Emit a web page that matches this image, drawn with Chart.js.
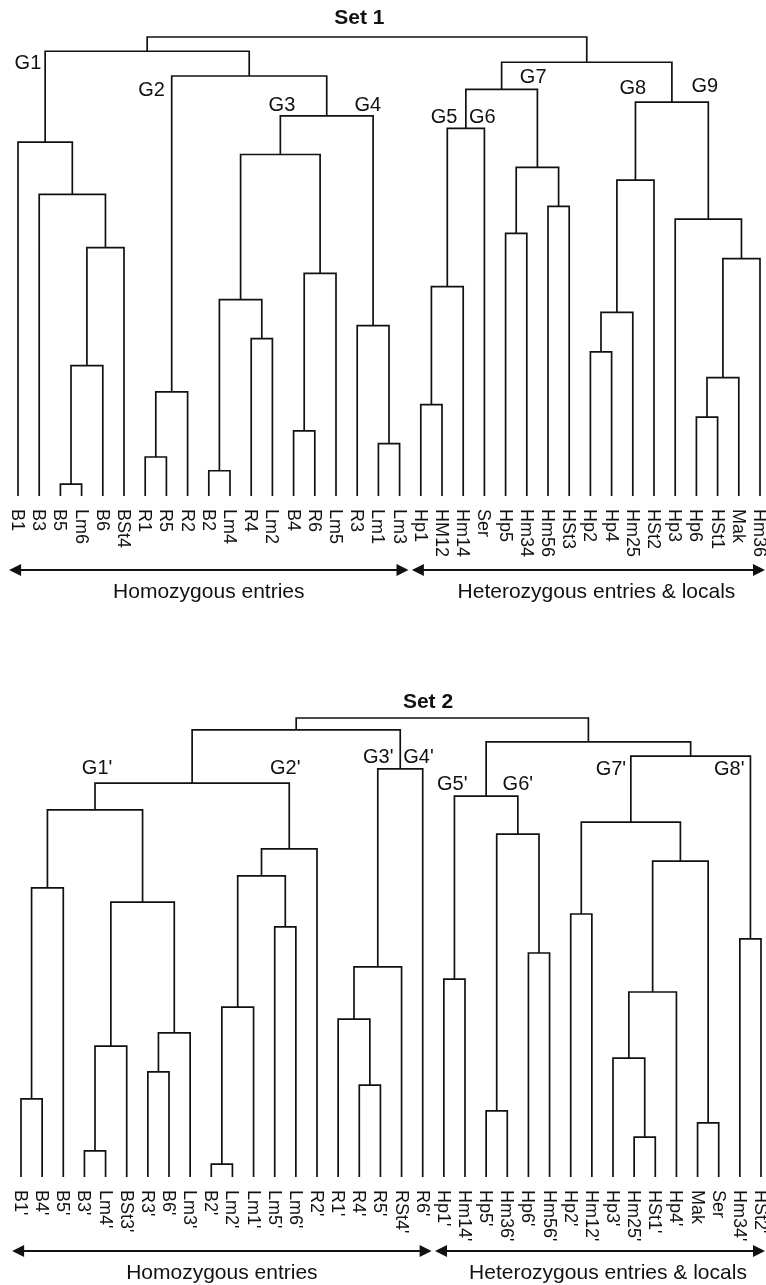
<!DOCTYPE html>
<html>
<head>
<meta charset="utf-8">
<title>Set 1 / Set 2 dendrograms</title>
<script src="https://cdn.jsdelivr.net/npm/chart.js@4.4.1/dist/chart.umd.min.js"></script>
<style>
  body { margin: 0; background: #fff; }
  #wrap { position: relative; width: 766px; height: 1285px; }
  #wrap canvas { position: absolute; left: 0; }
</style>
</head>
<body>
<div id="wrap">
  <canvas id="set1Chart" width="766" height="620" style="top:0px"></canvas>
  <canvas id="set2Chart" width="766" height="645" style="top:640px"></canvas>
</div>
<script>
// ---- Set 1 ----
const set1Leaves = ["B1", "B3", "B5", "Lm6", "B6", "BSt4", "R1", "R5", "R2", "B2", "Lm4", "R4",
  "Lm2", "B4", "R6", "Lm5", "R3", "Lm1", "Lm3", "Hp1", "HM12", "Hm14", "Ser", "Hp5", "Hm34",
  "Hm56", "HSt3", "Hp2", "Hp4", "Hm25", "HSt2", "Hp3", "Hp6", "HSt1", "Mak", "Hm36"];

// a number refers to an earlier merge (its index in this list)
const set1Merges = [
  ["B5", "Lm6"], [0, "B6"], [1, "BSt4"], ["B3", 2], ["B1", 3],
  ["R1", "R5"], [5, "R2"], ["B2", "Lm4"], ["R4", "Lm2"], [7, 8],
  ["B4", "R6"], [10, "Lm5"], [9, 11], ["Lm1", "Lm3"], ["R3", 13],
  [12, 14], [6, 15], [4, 16],
  ["Hp1", "HM12"], [18, "Hm14"], [19, "Ser"], ["Hp5", "Hm34"], ["Hm56", "HSt3"], [21, 22],
  [20, 23], ["Hp2", "Hp4"], [25, "Hm25"], [26, "HSt2"], ["Hp6", "HSt1"], [28, "Mak"],
  [29, "Hm36"], ["Hp3", 30], [27, 31], [24, 32], [17, 33]
];
const set1Heights = [2.6, 28.4, 54.1, 65.7, 77.1,
  8.5, 22.7, 5.5, 34.3, 42.8,
  14.2, 48.5, 74.4, 11.4, 37.1,
  82.8, 91.5, 96.9,
  19.9, 45.6, 80.1, 57.2, 63.1, 71.6,
  88.6, 31.4, 40.0, 68.8, 17.2, 25.8,
  51.7, 60.3, 85.8, 94.5, 100];

const set1Groups = ["G1", "G2", "G3", "G4", "G5", "G6", "G7", "G8", "G9"];
const set1Spans = ["Homozygous entries", "Heterozygous entries & locals"];
const set1SpanEnds = [["B1", "Lm3"], ["Hp1", "Hm36"]];

// ---- Set 2 ----
const set2Leaves = ["B1'", "B4'", "B5'", "B3'", "Lm4'", "BSt3'", "R3'", "B6'", "Lm3'", "B2'",
  "Lm2'", "Lm1'", "Lm5'", "Lm6'", "R2'", "R1'", "R4'", "R5'", "RSt4'", "R6'", "Hp1'", "Hm14'",
  "Hp5'", "Hm36'", "Hp6'", "Hm56'", "Hp2'", "Hm12'", "Hp3'", "Hm25'", "HSt1'", "Hp4'", "Mak",
  "Ser", "Hm34'", "HSt2'"];

const set2Merges = [
  ["B1'", "B4'"], [0, "B5'"], ["B3'", "Lm4'"], [2, "BSt3'"], ["R3'", "B6'"],
  [4, "Lm3'"], [3, 5], [1, 6], ["B2'", "Lm2'"], [8, "Lm1'"],
  ["Lm5'", "Lm6'"], [9, 10], [11, "R2'"], [7, 12], ["R4'", "R5'"],
  ["R1'", 14], [15, "RSt4'"], [16, "R6'"], [13, 17],
  ["Hp1'", "Hm14'"], ["Hp5'", "Hm36'"], ["Hp6'", "Hm56'"], [20, 21], [19, 22],
  ["Hp2'", "Hm12'"], ["Hm25'", "HSt1'"], ["Hp3'", 25], [26, "Hp4'"], ["Mak", "Ser"],
  [27, 28], [24, 29], ["Hm34'", "HSt2'"], [30, 31], [23, 32], [18, 33]
];
const set2Heights = [17.0, 63.0, 5.7, 28.5, 22.9,
  31.4, 59.9, 80.0, 2.8, 37.0,
  54.5, 65.6, 71.5, 85.8, 20.0,
  34.4, 45.8, 88.9, 97.4,
  43.1, 14.4, 48.8, 74.7, 83.0,
  57.3, 8.7, 25.9, 40.3, 11.8,
  68.8, 77.3, 51.9, 91.7, 94.8, 100];

const set2Groups = ["G1'", "G2'", "G3'", "G4'", "G5'", "G6'", "G7'", "G8'"];
const set2Spans = ["Homozygous entries", "Heterozygous entries & locals"];
const set2SpanEnds = [["B1'", "R6'"], ["Hp1'", "HSt2'"]];

const FONT = "'Liberation Sans', Arial, Helvetica, sans-serif";
const INK = "#111";

// turn the merge list into elbow links, one dataset per merge
function buildLinks(leaves, merges, heights) {
  const nodeX = [];
  function pos(ref) {
    if (typeof ref === "number") return [nodeX[ref], heights[ref]];
    return [leaves.indexOf(ref), 0];
  }
  return merges.map((pair, i) => {
    const [xl, hl] = pos(pair[0]);
    const [xr, hr] = pos(pair[1]);
    const h = heights[i];
    nodeX[i] = (xl + xr) / 2;
    return {
      data: [{ x: xl, y: hl }, { x: xl, y: h }, { x: xr, y: h }, { x: xr, y: hr }],
      showLine: true,
      borderColor: INK,
      borderWidth: 1.7,
      borderJoinStyle: "miter",
      pointRadius: 0,
      pointHoverRadius: 0,
      tension: 0,
      clip: false,
    };
  });
}

function arrowHead(ctx, x, y, dir) {
  ctx.beginPath();
  ctx.moveTo(x, y);
  ctx.lineTo(x - dir * 12, y - 6);
  ctx.lineTo(x - dir * 12, y + 6);
  ctx.closePath();
  ctx.fill();
}

const dendroText = {
  id: "dendroText",
  afterDraw(chart, args, opts) {
    const ctx = chart.ctx;
    const xs = chart.scales.x;
    const ys = chart.scales.y;
    const area = chart.chartArea;
    ctx.save();
    ctx.fillStyle = INK;
    ctx.strokeStyle = INK;

    // leaf names, turned to read downwards
    ctx.font = "18px " + FONT;
    ctx.textAlign = "left";
    ctx.textBaseline = "middle";
    opts.leaves.forEach((name, i) => {
      ctx.save();
      ctx.translate(xs.getPixelForValue(i), area.bottom + 13);
      ctx.rotate(Math.PI / 2);
      ctx.fillText(name, 0, 1);
      ctx.restore();
    });

    // cluster names
    ctx.textAlign = "center";
    ctx.font = "20px " + FONT;
    opts.groups.forEach((g, i) => {
      const p = opts.groupAt[i];
      ctx.fillText(g, xs.getPixelForValue(p[0]), ys.getPixelForValue(p[1]));
    });

    // title
    ctx.font = "bold 21px " + FONT;
    ctx.fillText(opts.title, xs.getPixelForValue(opts.titleAt[0]), ys.getPixelForValue(opts.titleAt[1]));

    // entry-type arrows
    const ay = area.bottom + 74;
    ctx.lineWidth = 2;
    ctx.font = "21px " + FONT;
    opts.spans.forEach((text, i) => {
      const a = opts.leaves.indexOf(opts.spanEnds[i][0]);
      const b = opts.leaves.indexOf(opts.spanEnds[i][1]);
      const x1 = Math.max(2, xs.getPixelForValue(a - 0.42));
      const x2 = Math.min(chart.width - 1, xs.getPixelForValue(b + 0.42));
      ctx.beginPath();
      ctx.moveTo(x1 + 6, ay);
      ctx.lineTo(x2 - 6, ay);
      ctx.stroke();
      arrowHead(ctx, x1, ay, -1);
      arrowHead(ctx, x2, ay, 1);
      ctx.fillText(text, (x1 + x2) / 2 + (i === 1 ? 8 : 0), ay + 22);
    });
    ctx.restore();
  },
};

function drawDendrogram(canvasId, cfg) {
  const ctx = document.getElementById(canvasId).getContext("2d");
  return new Chart(ctx, {
    type: "scatter",
    data: { datasets: buildLinks(cfg.leaves, cfg.merges, cfg.heights) },
    options: {
      responsive: false,
      animation: false,
      devicePixelRatio: 1,
      layout: { padding: cfg.padding },
      events: [],
      scales: {
        x: { type: "linear", min: 0, max: cfg.leaves.length - 1, display: false },
        y: { type: "linear", min: 0, max: 100, display: false },
      },
      plugins: {
        legend: { display: false },
        tooltip: { enabled: false },
        dendroText: {
          leaves: cfg.leaves,
          groups: cfg.groups,
          groupAt: cfg.groupAt,
          title: cfg.title,
          titleAt: cfg.titleAt,
          spans: cfg.spans,
          spanEnds: cfg.spanEnds,
        },
      },
    },
    plugins: [dendroText],
  });
}

document.addEventListener("DOMContentLoaded", function () {
  drawDendrogram("set1Chart", {
    leaves: set1Leaves,
    merges: set1Merges,
    heights: set1Heights,
    groups: set1Groups,
    // label spots in data units (leaf index, height)
    groupAt: [[0.47, 94.3], [6.3, 88.4], [12.45, 85.1], [16.5, 85.1], [20.1, 82.5],
      [21.9, 82.5], [24.3, 91.2], [29.0, 88.8], [32.4, 89.3]],
    title: "Set 1",
    titleAt: [16.1, 104.1],
    spans: set1Spans,
    spanEnds: set1SpanEnds,
    padding: { left: 18, right: 6, top: 37, bottom: 124 },
  });

  drawDendrogram("set2Chart", {
    leaves: set2Leaves,
    merges: set2Merges,
    heights: set2Heights,
    groups: set2Groups,
    groupAt: [[3.6, 89.1], [12.5, 88.9], [16.9, 91.3], [18.8, 91.5], [20.4, 85.6],
      [23.5, 85.6], [27.9, 88.7], [33.5, 88.7]],
    title: "Set 2",
    titleAt: [19.25, 103.5],
    spans: set2Spans,
    spanEnds: set2SpanEnds,
    padding: { left: 21, right: 5, top: 78, bottom: 108 },
  });
});
</script>
</body>
</html>
